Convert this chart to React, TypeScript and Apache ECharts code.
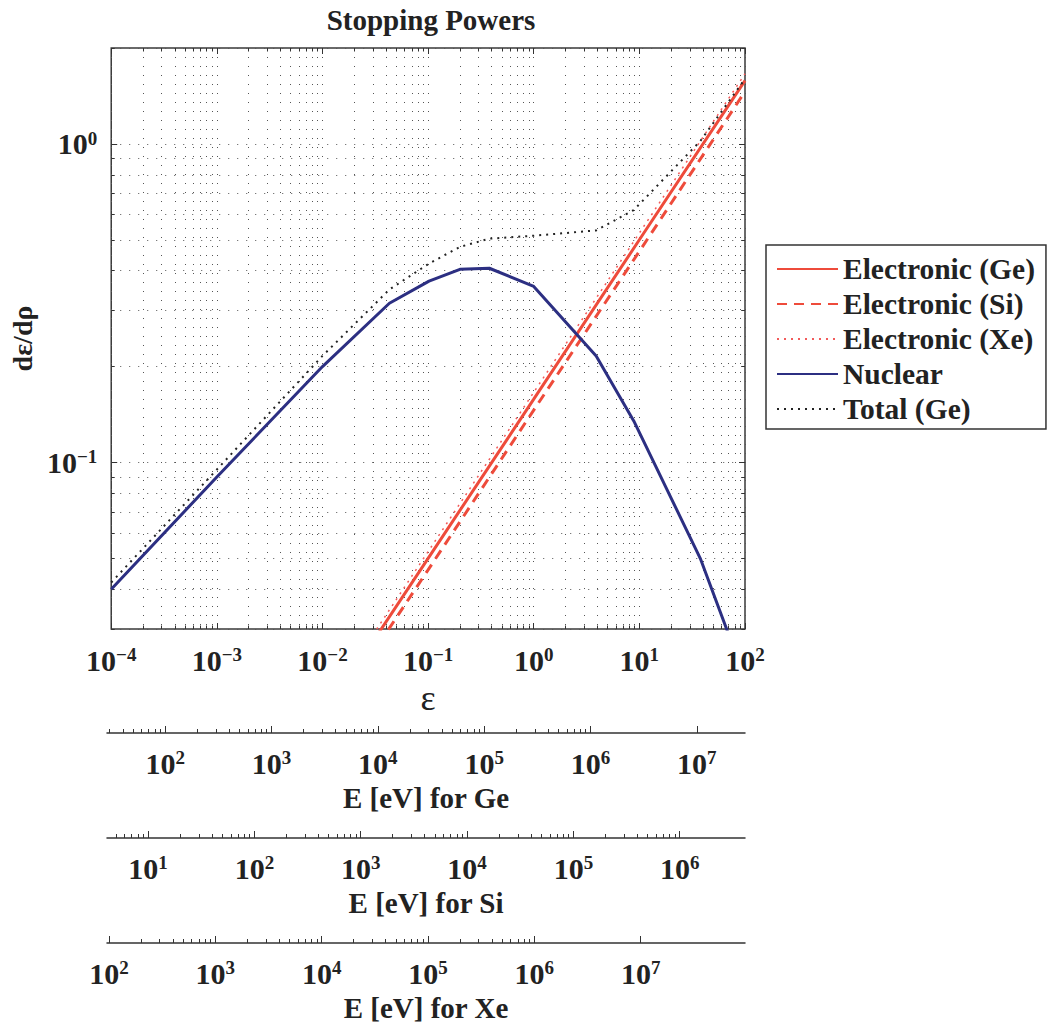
import React, { useEffect, useRef } from "react";
import * as echarts from "echarts";

// ---------------- data ----------------
const nuclearEps = [1e-4, 1e-3, 1e-2, 0.043, 0.102, 0.2, 0.38, 1.0, 3.9, 8.85, 37.7, 100];
const nuclearStop = [0.04, 0.09, 0.2, 0.316, 0.371, 0.404, 0.407, 0.357, 0.216, 0.135, 0.05, 0.021];
const totalGeStop = [0.042, 0.095, 0.216, 0.349, 0.421, 0.475, 0.504, 0.515, 0.535, 0.62, 1.02, 1.6];
const electronicEps = [0.01, 0.1, 1, 10, 100];
const electronicGe = [0.0158, 0.05, 0.158, 0.5, 1.58];
const electronicSi = [0.0146, 0.046, 0.146, 0.46, 1.46];
const electronicXe = [0.0166, 0.0525, 0.166, 0.525, 1.66];

const seriesNames = ["Electronic (Ge)", "Electronic (Si)", "Electronic (Xe)", "Nuclear", "Total (Ge)"];

const epsRange = [1e-4, 100];
const stopRange = [0.03, 2];
const epsMajorExp = [-4, -3, -2, -1, 0, 1, 2];
const stopMajorExp = [-1, 0];

// conversion eps -> E [eV] for each target
const evPerEpsGe = 2.837e5;
const evPerEpsSi = 4.11e4;
const evPerEpsXe = 9.575e5;
const geMajorExp = [2, 3, 4, 5, 6, 7];
const siMajorExp = [1, 2, 3, 4, 5, 6];
const xeMajorExp = [2, 3, 4, 5, 6, 7];
const energyMinorMaxExp = 5; // minor ticks stop at 9e5 eV, as in the figure

// ---------------- helpers ----------------
const lg = Math.log10;
const FONT = "'Liberation Serif', 'Times New Roman', serif";
const TXT = "#222";

function minorLogs(lo: number, hi: number, nFrom: number, nTo: number) {
  const out: number[] = [];
  for (let n = nFrom; n <= nTo; n++) {
    for (let k = 2; k <= 9; k++) {
      const v = lg(k) + n;
      if (v >= lo - 1e-9 && v <= hi + 1e-9) out.push(v);
    }
  }
  return out;
}

const rich = {
  b: { fontFamily: FONT, fontWeight: "bold", fontSize: 30, lineHeight: 30, color: TXT },
  s: { fontFamily: FONT, fontWeight: "bold", fontSize: 19, lineHeight: 2, verticalAlign: "top", color: TXT },
};
const fmt = (v: number) => {
  const e = Math.round(v);
  return `{b|10}{s|${e < 0 ? "\u2212" + -e : e}}`;
};

const gridLine = { color: "#555", width: 1, type: [1, 8] as number[] };

function axis(o: any) {
  const ax: any = {
    type: "value",
    gridIndex: o.grid,
    position: o.pos,
    min: o.lo,
    max: o.hi,
    axisLine: { show: !!o.line, onZero: false, lineStyle: { color: "#333", width: 1.5 } },
    axisTick: { show: true, inside: true, length: o.len, customValues: o.ticks, lineStyle: { color: "#333", width: 1 } },
    axisLabel: o.labels
      ? { show: true, customValues: o.ticks, formatter: fmt, margin: o.margin ?? 16, rich }
      : { show: false },
    splitLine: { show: !!o.split, lineStyle: gridLine },
    minorTick: { show: false },
    minorSplitLine: { show: false },
  };
  if (o.name) {
    ax.name = o.name;
    ax.nameLocation = "middle";
    ax.nameGap = o.nameGap;
    ax.nameTextStyle = o.nameStyle;
  }
  return ax;
}

const App: React.FC = () => {
  const ref = useRef<HTMLDivElement>(null);

  useEffect(() => {
    document.body.style.margin = "0";
    if (!ref.current) return;
    const chart = echarts.init(ref.current, undefined, { renderer: "svg" });

    const xLo = lg(epsRange[0]);
    const xHi = lg(epsRange[1]);
    const yLo = lg(stopRange[0]);
    const yHi = lg(stopRange[1]);
    const xMinor = minorLogs(xLo, xHi, -4, 1);
    const yMinor = minorLogs(yLo, yHi, -2, 0);

    const L = 107;
    const W = 638;
    const nameStyle = { fontFamily: FONT, fontWeight: "bold", fontSize: 29, color: TXT };

    const energyAxes = (grid: number, conv: number, majors: number[], name: string) => {
      const lo = lg(epsRange[0] * conv);
      const hi = lg(epsRange[1] * conv);
      const minors = minorLogs(lo, hi, Math.floor(lo), energyMinorMaxExp);
      return [
        axis({ grid, pos: "bottom", lo, hi, ticks: majors, len: 7, labels: true, line: true, margin: 15, name, nameGap: 50, nameStyle }),
        axis({ grid, pos: "bottom", lo, hi, ticks: minors, len: 4 }),
      ];
    };

    const pts = (xs: number[], ys: number[]) => xs.map((x, i) => [lg(x), lg(ys[i])]);

    const red = "#ee4b3b";
    const option: any = {
      animation: false,
      backgroundColor: "#ffffff",
      title: {
        text: "Stopping Powers",
        left: 426,
        top: 0,
        textAlign: "center",
        textStyle: { fontFamily: FONT, fontWeight: "bold", fontSize: 29, color: TXT },
      },
      legend: {
        orient: "vertical",
        left: 766,
        top: 245,
        padding: [9, 11, 5, 10],
        borderColor: "#333",
        borderWidth: 1.5,
        backgroundColor: "#fff",
        itemWidth: 61,
        itemHeight: 14,
        itemGap: 5,
        data: seriesNames,
        itemStyle: { opacity: 0 },
        textStyle: { fontFamily: FONT, fontWeight: "bold", fontSize: 29.5, lineHeight: 30, color: TXT },
      },
      grid: [
        { left: L, width: W, top: 48, height: 581, show: true, borderColor: "#3a3a3a", borderWidth: 1.5, backgroundColor: "transparent" },
        { left: L, width: W, top: 732, height: 1 },
        { left: L, width: W, top: 837, height: 1 },
        { left: L, width: W, top: 942, height: 1 },
      ],
      xAxis: [
        axis({
          grid: 0, pos: "bottom", lo: xLo, hi: xHi, ticks: epsMajorExp, len: 6, labels: true, split: true,
          name: "\u03b5", nameGap: 30, nameStyle: { fontFamily: FONT, fontSize: 36, color: TXT },
        }),
        axis({ grid: 0, pos: "bottom", lo: xLo, hi: xHi, ticks: xMinor, len: 3.5, split: true }),
        axis({ grid: 0, pos: "top", lo: xLo, hi: xHi, ticks: epsMajorExp, len: 6 }),
        axis({ grid: 0, pos: "top", lo: xLo, hi: xHi, ticks: xMinor, len: 3.5 }),
        ...energyAxes(1, evPerEpsGe, geMajorExp, "E [eV] for Ge"),
        ...energyAxes(2, evPerEpsSi, siMajorExp, "E [eV] for Si"),
        ...energyAxes(3, evPerEpsXe, xeMajorExp, "E [eV] for Xe"),
      ],
      yAxis: [
        axis({
          grid: 0, pos: "left", lo: yLo, hi: yHi, ticks: stopMajorExp, len: 6, labels: true, split: true, margin: 14,
          name: "d\u03b5/d\u03c1", nameGap: 58, nameStyle: { fontFamily: FONT, fontWeight: "bold", fontSize: 28, color: TXT },
        }),
        axis({ grid: 0, pos: "left", lo: yLo, hi: yHi, ticks: yMinor, len: 3.5, split: true }),
        axis({ grid: 0, pos: "right", lo: yLo, hi: yHi, ticks: stopMajorExp, len: 6 }),
        axis({ grid: 0, pos: "right", lo: yLo, hi: yHi, ticks: yMinor, len: 3.5 }),
        { type: "value", gridIndex: 1, show: false, min: 0, max: 1 },
        { type: "value", gridIndex: 2, show: false, min: 0, max: 1 },
        { type: "value", gridIndex: 3, show: false, min: 0, max: 1 },
      ],
      series: [
        {
          name: seriesNames[0], type: "line", xAxisIndex: 0, yAxisIndex: 0, symbol: "none",
          data: pts(electronicEps, electronicGe),
          lineStyle: { color: red, width: 3, type: "solid" }, itemStyle: { color: red }, z: 3,
        },
        {
          name: seriesNames[1], type: "line", xAxisIndex: 0, yAxisIndex: 0, symbol: "none",
          data: pts(electronicEps, electronicSi),
          lineStyle: { color: red, width: 3, type: [10, 7] }, itemStyle: { color: red }, z: 3,
        },
        {
          name: seriesNames[2], type: "line", xAxisIndex: 0, yAxisIndex: 0, symbol: "none",
          data: pts(electronicEps, electronicXe),
          lineStyle: { color: "#f25a5a", width: 1.5, type: [2, 5] }, itemStyle: { color: "#f25a5a" }, z: 3,
        },
        {
          name: seriesNames[3], type: "line", xAxisIndex: 0, yAxisIndex: 0, symbol: "none",
          data: pts(nuclearEps, nuclearStop),
          lineStyle: { color: "#2c2f82", width: 3, type: "solid" }, itemStyle: { color: "#2c2f82" }, z: 3,
        },
        {
          name: seriesNames[4], type: "line", xAxisIndex: 0, yAxisIndex: 0, symbol: "none",
          data: pts(nuclearEps, totalGeStop),
          lineStyle: { color: "#222", width: 2, type: [2, 5] }, itemStyle: { color: "#222" }, z: 4,
        },
      ],
    };

    chart.setOption(option);
    return () => chart.dispose();
  }, []);

  return <div ref={ref} style={{ width: 1053, height: 1036, overflow: "hidden" }} />;
};

export default App;
